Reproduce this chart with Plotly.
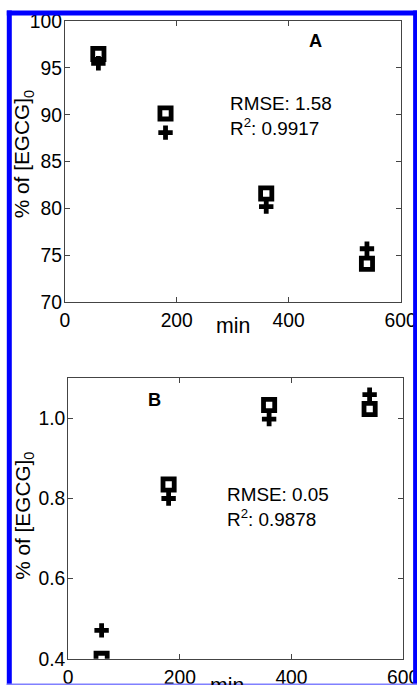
import plotly.graph_objects as go

# ---- data ----
times = [60, 180, 360, 540]
a_square = [96.5, 90.15, 81.6, 74.1]
a_plus = [95.5, 88.1, 80.2, 75.7]
b_square = [0.40, 0.835, 1.033, 1.023]
b_plus = [0.471, 0.80, 0.998, 1.059]

x_ticks = [0, 200, 400, 600]
a_yticks = [70, 75, 80, 85, 90, 95, 100]
b_yticks = [0.4, 0.6, 0.8, 1.0]

# page -> picture mapping observed in the renderer (picture = A*page + B)
AX, BX, AY, BY = 0.952, 5.2, 0.970, 9.6
W, H = 438, 706
S = 1 / 0.961  # size scale
FONT = "Liberation Sans, Arial, Helvetica, sans-serif"


def PX(rx):
    return ((rx - BX) / AX) / W


def PY(ry):
    return 1 - ((ry - BY) / AY) / H


def fs(v):
    return round(v * S, 1)


fig = go.Figure()

sq = dict(symbol="square-open", size=fs(10.8), color="black", line=dict(width=fs(4.6), color="black"))
pl = dict(symbol="cross", size=fs(11.5), color="black", line=dict(width=0))

fig.add_trace(go.Scatter(x=times, y=a_plus, mode="markers", marker=pl, xaxis="x", yaxis="y", showlegend=False))
fig.add_trace(go.Scatter(x=times, y=a_square, mode="markers", marker=sq, xaxis="x", yaxis="y", showlegend=False))
fig.add_trace(go.Scatter(x=times, y=b_plus, mode="markers", marker=pl, xaxis="x2", yaxis="y2", showlegend=False))
fig.add_trace(go.Scatter(x=times, y=b_square, mode="markers", marker=sq, xaxis="x2", yaxis="y2", showlegend=False))

axcommon = dict(
    showgrid=False, zeroline=False, showline=True, linecolor="#444", linewidth=1,
    mirror="ticks", ticks="inside", ticklen=5, tickcolor="#444", tickwidth=1,
    tickfont=dict(family=FONT, size=fs(18.5), color="black"),
)

fig.update_layout(
    width=W, height=H,
    margin=dict(l=0, r=0, t=0, b=0),
    paper_bgcolor="white", plot_bgcolor="white",
    xaxis=dict(domain=[PX(65), PX(400.7)], range=[0, 600], tickvals=x_ticks,
               anchor="y", ticklabelstandoff=1, **axcommon),
    yaxis=dict(domain=[PY(301.7), PY(20.7)], range=[70, 100], tickvals=a_yticks,
               anchor="x", ticklabelstandoff=-2, **axcommon),
    xaxis2=dict(domain=[PX(68.3), PX(403.3)], range=[0, 600], tickvals=x_ticks,
                anchor="y2", ticklabelstandoff=1, **axcommon),
    yaxis2=dict(domain=[PY(658.3), PY(377.7)], range=[0.4, 1.1], tickvals=b_yticks,
                tickformat=".1f", anchor="x2", ticklabelstandoff=-2, **axcommon),
)

tf = dict(family=FONT, size=fs(18.2), color="black")
titlef = dict(family=FONT, size=fs(20), color="black")
minf = dict(family=FONT, size=fs(20.5), color="black")
labf = dict(family=FONT, size=fs(17.5), color="black")


def A(text, x, y, font, xa="center", ya="middle", **kw):
    return dict(text=text, x=PX(x), y=PY(y), xref="paper", yref="paper", showarrow=False,
                font=font, xanchor=xa, yanchor=ya, **kw)


ann = [
    A("% of [EGCG]<sub>0</sub>", 23.5, 153.5, titlef, textangle=-90),
    A("% of [EGCG]<sub>0</sub>", 23.5, 515, titlef, textangle=-90),
    A("min", 233, 325.5, minf),
    A("min", 227, 685, minf),
    A("<b>A</b>", 316, 41, labf),
    A("<b>B</b>", 155, 399, labf),
    A("RMSE: 1.58<br>R<sup>2</sup>: 0.9917", 228.5, 140.9, tf, xa="left", ya="bottom", align="left"),
    A("RMSE: 0.05<br>R<sup>2</sup>: 0.9878", 225, 531.7, tf, xa="left", ya="bottom", align="left"),
]
fig.update_layout(annotations=ann)

# blue frame
blue = "#0000ff"


def R(x0, x1, y0, y1, color):
    return dict(type="rect", xref="paper", yref="paper", x0=PX(x0), x1=PX(x1), y0=PY(y1), y1=PY(y0),
                fillcolor=color, line=dict(width=0), layer="above")


shapes = [
    R(7, 12, 10, 700, blue),
    R(7, 430, 10, 15, blue),
    R(413.3, 430, 10, 700, blue),
    R(7, 430, 683, 700, "#8080ff"),
]
fig.update_layout(shapes=shapes)

fig.write_html("out.html", config={"displayModeBar": False},
               post_script="document.body.style.margin='0';document.body.style.overflow='hidden';")
